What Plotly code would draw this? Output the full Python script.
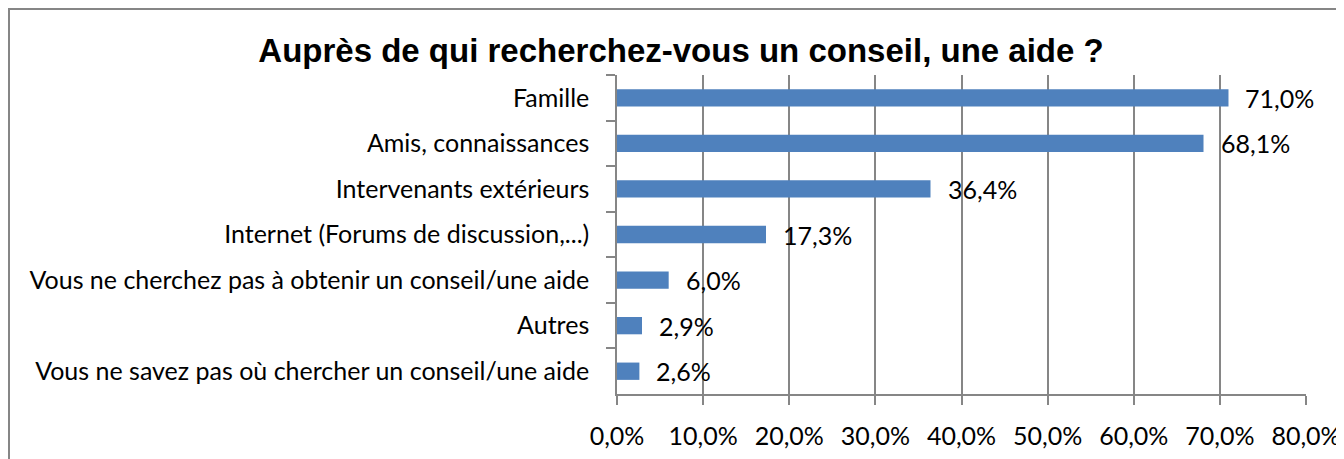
import plotly.graph_objects as go

categories = [
    "Famille",
    "Amis, connaissances",
    "Intervenants extérieurs",
    "Internet (Forums de discussion,...)",
    "Vous ne cherchez pas à obtenir un conseil/une aide",
    "Autres",
    "Vous ne savez pas où chercher un conseil/une aide",
]
values = [71.0, 68.1, 36.4, 17.3, 6.0, 2.9, 2.6]
tick_values = [0, 10, 20, 30, 40, 50, 60, 70, 80]
tick_labels = ["0,0%", "10,0%", "20,0%", "30,0%", "40,0%", "50,0%", "60,0%", "70,0%", "80,0%"]
title_text = "Auprès de qui recherchez-vous un conseil, une aide ?"

# figure is placed at (8, 8) in the page by the default body margin
W, H = 1336, 451
L, R, T, B = 609, 38, 67, 65
pw, ph = W - L - R, H - T - B

def px_x(px):
    return (px - L) / pw

def px_y(py):
    return (H - B - py) / ph

label_font = dict(family="Lato, 'Open Sans', sans-serif", size=25, color="#000000")
grid_col = "#868686"

fig = go.Figure()
fig.add_trace(go.Bar(
    x=values, y=categories, orientation="h",
    marker=dict(color="#4F81BD", line=dict(width=0)),
    width=0.38, hoverinfo="skip",
))

for v, c in zip(values, categories):
    fig.add_annotation(
        x=v, y=c, xref="x", yref="y", text=f"{v:.1f}%".replace(".", ","),
        showarrow=False, xanchor="left", yanchor="middle", xshift=15,
        font=label_font,
    )

fig.add_shape(
    type="rect", xref="paper", yref="paper",
    x0=px_x(1), x1=px_x(1400), y0=px_y(500), y1=px_y(1),
    line=dict(color="#868686", width=2), fillcolor="rgba(0,0,0,0)", layer="below",
)

fig.update_layout(
    width=W, height=H,
    margin=dict(l=L, r=R, t=T, b=B, autoexpand=False),
    paper_bgcolor="white", plot_bgcolor="white",
    showlegend=False,
    title=dict(
        text=f"<b>{title_text}</b>", x=673 / W, xanchor="center",
        y=1 - 42 / H, yanchor="middle", yref="container",
        font=dict(family="'Liberation Sans', Arial, sans-serif", size=33, color="#000000"),
    ),
    xaxis=dict(
        range=[0, 80], tickmode="array", tickvals=tick_values, ticktext=tick_labels,
        showgrid=True, gridcolor=grid_col, gridwidth=1.5,
        showline=True, linecolor=grid_col, linewidth=1.5,
        ticks="outside", ticklen=9, tickcolor=grid_col, tickwidth=1.5,
        ticklabelstandoff=10, tickfont=label_font, zeroline=False, fixedrange=True,
    ),
    yaxis=dict(
        autorange="reversed", type="category",
        showline=True, linecolor=grid_col, linewidth=1.5,
        ticks="outside", ticklen=9, tickcolor=grid_col, tickwidth=1.5,
        tickson="boundaries", showgrid=False,
        ticklabelstandoff=21, tickfont=label_font, fixedrange=True,
    ),
)

fig.write_html("out.html")
